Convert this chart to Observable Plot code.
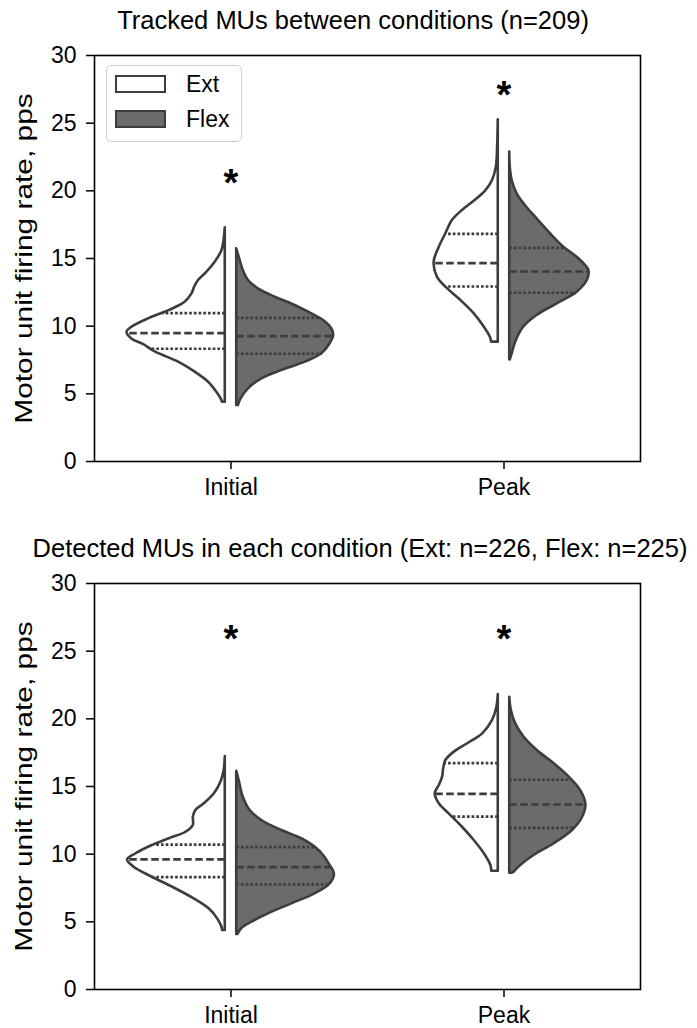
<!DOCTYPE html>
<html><head><meta charset="utf-8">
<script src="https://cdn.jsdelivr.net/npm/d3@7"></script>
<script src="https://cdn.jsdelivr.net/npm/@observablehq/plot@0.6"></script>
<style>
body{margin:0;background:#fff;}
#fig{position:relative;width:697px;height:1028px;font-family:"Liberation Sans",Arial,sans-serif;color:#000;overflow:hidden;}
.title{position:absolute;white-space:nowrap;font-size:25.5px;line-height:30px;transform:translate(-50%,-50%);}
.panel{position:absolute;left:0;}
.legend{position:absolute;box-sizing:border-box;left:106px;top:65px;width:136px;height:77px;border:1.5px solid #cfcfcf;border-radius:5px;background:rgba(255,255,255,0.85);}
.sw{position:absolute;box-sizing:border-box;left:8px;width:51px;height:18px;border:2.5px solid #3d3d3d;}
.lt{position:absolute;left:79px;font-size:23px;line-height:26px;transform:translateY(-50%);}
</style></head><body><div id="fig"></div><script>
const categories = ["Initial", "Peak"];
const conditions = ["Ext", "Flex"];
const yTicks = [0, 5, 10, 15, 20, 25, 30];
const titles = ["Tracked MUs between conditions (n=209)", "Detected MUs in each condition (Ext: n=226, Flex: n=225)"];
const yLabel = "Motor unit firing rate, pps";

// violin half-profiles: [firing rate (pps), half-width (category units)]
const trackedInitialExt = [[17.27,0],[15.59,0.012],[14.73,0.037],[13.99,0.067],[13.37,0.098],[12.88,0.112],[12.39,0.122],[11.77,0.147],[11.36,0.183],[11.03,0.220],[10.54,0.281],[9.92,0.342],[9.55,0.360],[9.06,0.342],[8.65,0.300],[8.08,0.255],[7.34,0.171],[6.60,0.110],[5.86,0.061],[5.12,0.031],[4.63,0.015],[4.38,0.010]];
const trackedInitialFlex = [[15.72,0],[15.10,0.009],[14.11,0.024],[13.37,0.043],[12.76,0.079],[12.14,0.141],[11.53,0.214],[10.91,0.275],[10.42,0.318],[9.81,0.348],[9.31,0.355],[8.70,0.342],[7.96,0.312],[7.34,0.251],[6.72,0.165],[6.11,0.092],[5.37,0.043],[4.63,0.016],[4.14,0.006]];
const trackedPeakExt = [[25.25,0],[23.48,0.002],[21.75,0.007],[20.76,0.021],[20.02,0.045],[19.23,0.088],[18.55,0.131],[17.81,0.168],[16.83,0.192],[15.84,0.216],[14.73,0.235],[13.62,0.223],[12.88,0.192],[11.90,0.137],[10.91,0.088],[9.92,0.051],[9.18,0.029],[8.82,0.024]];
const trackedPeakFlex = [[22.86,0],[21.75,0.002],[20.76,0.009],[19.78,0.027],[18.92,0.057],[17.93,0.100],[16.83,0.149],[15.84,0.198],[14.98,0.253],[14.11,0.290],[13.37,0.284],[12.51,0.247],[11.65,0.174],[10.79,0.100],[9.92,0.051],[8.94,0.024],[7.96,0.009],[7.51,0.002]];
const detectedInitialExt = [[17.22,0],[16.18,0.004],[15.32,0.016],[14.46,0.040],[13.72,0.077],[13.23,0.108],[12.73,0.117],[12.12,0.117],[11.62,0.144],[11.14,0.205],[10.64,0.267],[10.03,0.327],[9.58,0.358],[9.04,0.334],[8.35,0.273],[7.56,0.193],[6.70,0.114],[5.96,0.059],[5.22,0.028],[4.60,0.012],[4.36,0.010]];
const detectedInitialFlex = [[16.13,0],[15.44,0.009],[14.21,0.024],[13.23,0.049],[12.49,0.092],[11.75,0.165],[11.14,0.238],[10.52,0.287],[9.90,0.318],[9.16,0.342],[8.55,0.358],[7.81,0.342],[7.07,0.287],[6.33,0.202],[5.59,0.116],[4.97,0.055],[4.49,0.018],[4.06,0.004]];
const detectedPeakExt = [[21.80,0],[20.86,0.005],[19.88,0.021],[18.89,0.057],[18.16,0.112],[17.54,0.161],[16.92,0.192],[16.31,0.200],[15.69,0.204],[15.07,0.216],[14.46,0.231],[13.72,0.216],[12.98,0.180],[11.99,0.131],[11.01,0.088],[10.03,0.051],[9.16,0.027],[8.74,0.024]];
const detectedPeakFlex = [[21.60,0],[20.62,0.006],[19.63,0.022],[18.64,0.053],[17.66,0.101],[16.68,0.163],[15.69,0.218],[14.70,0.260],[13.67,0.279],[12.73,0.267],[11.75,0.230],[10.77,0.163],[9.90,0.089],[9.16,0.040],[8.67,0.016],[8.60,0.010]];

// quartiles [Q3, median, Q1]
const trackedInitialExtQ = [10.96, 9.48, 8.33];
const trackedInitialFlexQ = [10.62, 9.26, 7.96];
const trackedPeakExtQ = [16.82, 14.66, 12.93];
const trackedPeakFlexQ = [15.79, 14.04, 12.47];
const detectedInitialExtQ = [10.71, 9.61, 8.30];
const detectedInitialFlexQ = [10.52, 9.04, 7.76];
const detectedPeakExtQ = [16.72, 14.46, 12.78];
const detectedPeakFlexQ = [15.50, 13.67, 11.95];

// significance asterisk heights (pps), per category
const trackedStars = [20.9, 27.4];
const detectedStars = [26.2, 26.2];

const GAP = 0.021;
const LINE = "#3d3d3d";
const FLEXFILL = "#6b6b6b";

function widthAt(profile, v) {
  for (let i = 0; i < profile.length - 1; i++) {
    const [a, wa] = profile[i], [b, wb] = profile[i + 1];
    if (v <= a && v >= b) return wa + (wb - wa) * (a - v) / (a - b);
  }
  return 0;
}

function panel(violins, stars, height, mt, mb) {
  const marks = [Plot.frame({stroke: "black", strokeWidth: 1.6})];
  const rules = [];
  for (const vi of violins) {
    const sgn = vi.cond === "Ext" ? -1 : 1;
    const c = vi.cat;
    const rows = vi.profile.map(([v, w]) => ({v, x1: c + sgn * GAP, x2: c + sgn * (GAP + w)}));
    marks.push(Plot.areaX(rows, {y: "v", x1: "x1", x2: "x2", fill: vi.cond === "Ext" ? "white" : FLEXFILL,
      stroke: LINE, strokeWidth: 2.6, strokeLinejoin: "round", curve: "catmull-rom"}));
    vi.quart.forEach((q, i) => rules.push({y: q, med: i === 1, x1: c + sgn * GAP, x2: c + sgn * (GAP + widthAt(vi.profile, q))}));
  }
  marks.push(Plot.ruleY(rules.filter(d => !d.med), {y: "y", x1: "x1", x2: "x2", stroke: LINE, strokeWidth: 2.7, strokeDasharray: "2.7,2"}));
  marks.push(Plot.ruleY(rules.filter(d => d.med), {y: "y", x1: "x1", x2: "x2", stroke: LINE, strokeWidth: 2.7, strokeDasharray: "7.5,3.5"}));
  marks.push(Plot.text(stars.map((s, i) => ({x: i, y: s})), {x: "x", y: "y", text: () => "*", fontSize: 38, fontWeight: "bold", fill: "black", dy: 5}));
  marks.push(Plot.axisY({ticks: yTicks, tickSize: 8, tickPadding: 10, strokeWidth: 1.5, fontSize: 23, label: yLabel, labelAnchor: "center", labelArrow: "none", labelOffset: 79}));
  marks.push(Plot.axisX({ticks: [0, 1], tickFormat: i => categories[i], tickSize: 8, tickPadding: 9, strokeWidth: 1.5, fontSize: 23, label: null}));
  const svg = Plot.plot({
    width: 697, height, marginLeft: 94, marginRight: 57, marginTop: mt, marginBottom: mb,
    x: {domain: [-0.5, 1.5]}, y: {domain: [0, 30]},
    style: {fontFamily: '"Liberation Sans", Arial, sans-serif', fontSize: "23px", color: "black", background: "transparent", overflow: "visible"},
    marks
  });
  // the reference's axis title is drawn elongated along its reading direction
  const lab = svg.querySelector('[aria-label="y-axis label"] text');
  if (lab) lab.setAttribute("transform", (lab.getAttribute("transform") || "") + " scale(1.3,1)");
  return svg;
}

const fig = document.getElementById("fig");
function add(el, top) { const d = document.createElement("div"); d.className = "panel"; d.style.top = top + "px"; d.appendChild(el); fig.appendChild(d); }
function title(text, x, y) { const t = document.createElement("div"); t.className = "title"; t.style.left = x + "px"; t.style.top = y + "px"; t.textContent = text; fig.appendChild(t); }

title(titles[0], 353, 20);
add(panel([
  {cat: 0, cond: "Ext", profile: trackedInitialExt, quart: trackedInitialExtQ},
  {cat: 0, cond: "Flex", profile: trackedInitialFlex, quart: trackedInitialFlexQ},
  {cat: 1, cond: "Ext", profile: trackedPeakExt, quart: trackedPeakExtQ},
  {cat: 1, cond: "Flex", profile: trackedPeakFlex, quart: trackedPeakFlexQ}
], trackedStars, 466, 15, 45), 40);

title(titles[1], 360, 548);
add(panel([
  {cat: 0, cond: "Ext", profile: detectedInitialExt, quart: detectedInitialExtQ},
  {cat: 0, cond: "Flex", profile: detectedInitialFlex, quart: detectedInitialFlexQ},
  {cat: 1, cond: "Ext", profile: detectedPeakExt, quart: detectedPeakExtQ},
  {cat: 1, cond: "Flex", profile: detectedPeakFlex, quart: detectedPeakFlexQ}
], detectedStars, 460, 15, 39), 568);

// legend
const lg = document.createElement("div"); lg.className = "legend";
conditions.forEach((c, i) => {
  const s = document.createElement("div"); s.className = "sw"; s.style.top = (9 + i * 35) + "px";
  s.style.background = c === "Ext" ? "white" : FLEXFILL; lg.appendChild(s);
  const t = document.createElement("div"); t.className = "lt"; t.style.top = (18 + i * 35) + "px"; t.textContent = c; lg.appendChild(t);
});
fig.appendChild(lg);
</script></body></html>
